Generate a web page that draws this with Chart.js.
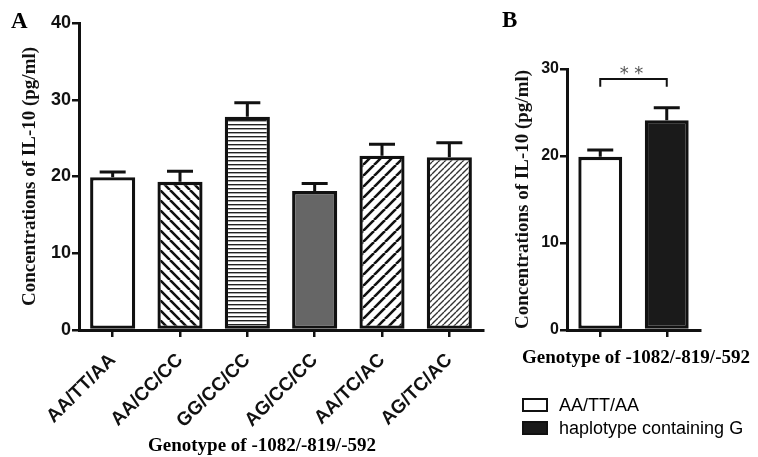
<!DOCTYPE html>
<html>
<head>
<meta charset="utf-8">
<script src="https://cdn.jsdelivr.net/npm/chart.js@4"></script>
<style>
  body { margin: 0; background: #fff; }
  #wrap { position: relative; width: 758px; height: 457px; overflow: hidden; }
  #cA { position: absolute; left: 0; top: 0; }
  #cB { position: absolute; left: 490px; top: 0; }
  .panel { position: absolute; font: bold 23px "Liberation Serif", serif; }
  .xTitle { position: absolute; text-align: center;
    font: bold 19px "Liberation Serif", serif; white-space: nowrap; line-height: 22px; }
  .leg { position: absolute; left: 522px; font: 18px "Liberation Sans", Arial, sans-serif; white-space: nowrap; }
  .leg span.box { position: absolute; left: 0; width: 26px; height: 14px; box-sizing: border-box; border: 2.5px solid #111; }
  .leg span.txt { position: absolute; left: 37px; top: -4px; line-height: 22px; }
</style>
</head>
<body>
<div id="wrap">
  <canvas id="cA" width="490" height="457"></canvas>
  <canvas id="cB" width="268" height="457"></canvas>
  <div class="panel" style="left:11px;top:8px;">A</div>
  <div class="panel" style="left:502px;top:7px;">B</div>
  <div class="xTitle" id="xTitleA" style="left:142px;top:434px;width:240px;"></div>
  <div class="xTitle" id="xTitleB" style="left:516px;top:346px;width:240px;"></div>
  <div id="legendB"></div>
</div>
<script>
// パネルA：遺伝子型ごとのIL-10濃度
const genotypesA = ['AA/TT/AA', 'AA/CC/CC', 'GG/CC/CC', 'AG/CC/CC', 'AA/TC/AC', 'AG/TC/AC'];
const meansA = [19.9, 19.3, 27.8, 18.1, 22.7, 22.5];
const semA = [0.7, 1.4, 1.8, 1.0, 1.5, 1.9];
const yTicksA = [0, 10, 20, 30, 40];

// パネルB：AA/TT/AA vs G含有ハプロタイプ
const groupsB = ['AA/TT/AA', 'haplotype containing G'];
const meansB = [19.9, 24.1];
const semB = [0.8, 1.45];
const yTicksB = [0, 10, 20, 30];
const sigLabelB = '* *';

const yTitle = 'Concentrations of IL-10 (pg/ml)';
const xTitle = 'Genotype of -1082/-819/-592';

document.getElementById('xTitleA').textContent = xTitle;
document.getElementById('xTitleB').textContent = xTitle;

// 斜線などのパターンを作る
function makePattern(size, draw) {
  const c = document.createElement('canvas');
  c.width = size; c.height = size;
  const g = c.getContext('2d');
  g.fillStyle = '#fff';
  g.fillRect(0, 0, size, size);
  draw(g, size);
  return g.createPattern(c, 'repeat');
}
function diag(size, width, color, dir) {
  return makePattern(size, (g, s) => {
    g.strokeStyle = color;
    g.lineWidth = width;
    g.beginPath();
    for (let k = -1; k <= 1; k++) {
      if (dir === 'up') {
        g.moveTo(k * s, s); g.lineTo(k * s + s, 0);
      } else {
        g.moveTo(k * s, 0); g.lineTo(k * s + s, s);
      }
    }
    g.stroke();
  });
}
const hLines = makePattern(4.4, (g, s) => {
  g.fillStyle = '#222';
  g.fillRect(0, 0, s, 1.4);
});

const fillsA = [
  '#fff',
  diag(10, 2.6, '#111', 'down'),
  hLines,
  '#666',
  diag(11, 2.6, '#111', 'up'),
  diag(6, 1.4, '#333', 'up')
];

// エラーバー（上側のみ）
const errorBars = {
  id: 'errorBars',
  afterDatasetsDraw(chart, args, opts) {
    const ctx = chart.ctx;
    const meta = chart.getDatasetMeta(0);
    const y = chart.scales.y;
    ctx.save();
    ctx.strokeStyle = '#111';
    ctx.lineWidth = 3;
    meta.data.forEach((bar, i) => {
      const top = y.getPixelForValue(opts.means[i] + opts.sem[i]);
      ctx.beginPath();
      ctx.moveTo(bar.x, bar.y);
      ctx.lineTo(bar.x, top);
      ctx.moveTo(bar.x - 13, top);
      ctx.lineTo(bar.x + 13, top);
      ctx.stroke();
    });
    ctx.restore();
  }
};

// 有意差の括弧
const sigBracket = {
  id: 'sigBracket',
  afterDraw(chart, args, opts) {
    if (!opts.text) return;
    const ctx = chart.ctx;
    const x = chart.scales.x, y = chart.scales.y;
    const x1 = x.getPixelForValue(0), x2 = x.getPixelForValue(1);
    const yb = y.getPixelForValue(28.85), yl = y.getPixelForValue(27.95);
    ctx.save();
    ctx.strokeStyle = '#111';
    ctx.lineWidth = 2;
    ctx.beginPath();
    ctx.moveTo(x1, yl); ctx.lineTo(x1, yb); ctx.lineTo(x2, yb); ctx.lineTo(x2, yl);
    ctx.stroke();
    ctx.fillStyle = '#555';
    ctx.font = '18px "DejaVu Sans", sans-serif';
    ctx.textAlign = 'center';
    ctx.textBaseline = 'middle';
    ctx.fillText(opts.text, (x1 + x2) / 2 - 2, y.getPixelForValue(29.5) + 1);
    ctx.restore();
  }
};

function axisOpts(ticks, max, tickFont, yWidth, yTitlePad) {
  return {
    x: {
      offset: true,
      border: { display: true, color: '#111', width: 3 },
      grid: { display: true, drawOnChartArea: false, offset: false, color: '#111', lineWidth: 2.5, tickLength: 7 },
      afterFit(scale) { scale.height = 127; }
    },
    y: {
      min: 0, max: max,
      afterBuildTicks(scale) { scale.ticks = ticks.map(v => ({ value: v })); },
      border: { display: true, color: '#111', width: 3 },
      grid: { display: true, drawOnChartArea: false, color: '#111', lineWidth: 2.5, tickLength: 7 },
      ticks: { color: '#111', padding: 1, font: { family: '"Liberation Sans", Arial, sans-serif', weight: 'bold', size: tickFont } },
      title: {
        display: true, text: yTitle, color: '#111',
        font: { family: '"Liberation Serif", serif', weight: 'bold', size: 19 },
        padding: { top: yTitlePad, bottom: 0 }
      },
      afterFit(scale) { scale.width = yWidth; }
    }
  };
}

// パネルA
const optsA = axisOpts(yTicksA, 40, 18, 79, 18.6);
optsA.x.ticks = {
  color: '#111', padding: 12, minRotation: 45, maxRotation: 45, autoSkip: false,
  font: { family: '"Liberation Sans", Arial, sans-serif', weight: 'bold', size: 19 }
};
new Chart(document.getElementById('cA'), {
  type: 'bar',
  data: {
    labels: genotypesA,
    datasets: [{
      data: meansA,
      backgroundColor: fillsA,
      borderColor: '#111',
      borderWidth: 3.3,
      borderSkipped: false,
      barPercentage: 0.67,
      categoryPercentage: 1
    }]
  },
  options: {
    responsive: false,
    animation: false,
    layout: { padding: { left: 0, right: 7, top: 23, bottom: 0 } },
    scales: optsA,
    plugins: {
      legend: { display: false },
      tooltip: { enabled: false },
      errorBars: { means: meansA, sem: semA }
    }
  },
  plugins: [errorBars]
});

// パネルB
const optsB = axisOpts(yTicksB, 30, 16, 77, 21.6);
optsB.x.ticks = { display: false };
new Chart(document.getElementById('cB'), {
  type: 'bar',
  data: {
    labels: groupsB,
    datasets: [{
      data: meansB,
      backgroundColor: ['#fff', '#1a1a1a'],
      borderColor: '#111',
      borderWidth: 3.3,
      borderSkipped: false,
      barPercentage: 0.66,
      categoryPercentage: 1
    }]
  },
  options: {
    responsive: false,
    animation: false,
    layout: { padding: { left: 0, right: 58, top: 69, bottom: 0 } },
    scales: optsB,
    plugins: {
      legend: { display: false },
      tooltip: { enabled: false },
      errorBars: { means: meansB, sem: semB },
      sigBracket: { text: sigLabelB }
    }
  },
  plugins: [errorBars, sigBracket]
});

// 凡例（HTML）
const legendEl = document.getElementById('legendB');
const legendTops = [398, 421];
const legendFills = ['#fff', '#1a1a1a'];
groupsB.forEach((name, i) => {
  const d = document.createElement('div');
  d.className = 'leg';
  d.style.top = legendTops[i] + 'px';
  d.innerHTML = `<span class="box" style="background:${legendFills[i]}"></span><span class="txt"></span>`;
  d.querySelector('.txt').textContent = name;
  legendEl.appendChild(d);
});
</script>
</body>
</html>
